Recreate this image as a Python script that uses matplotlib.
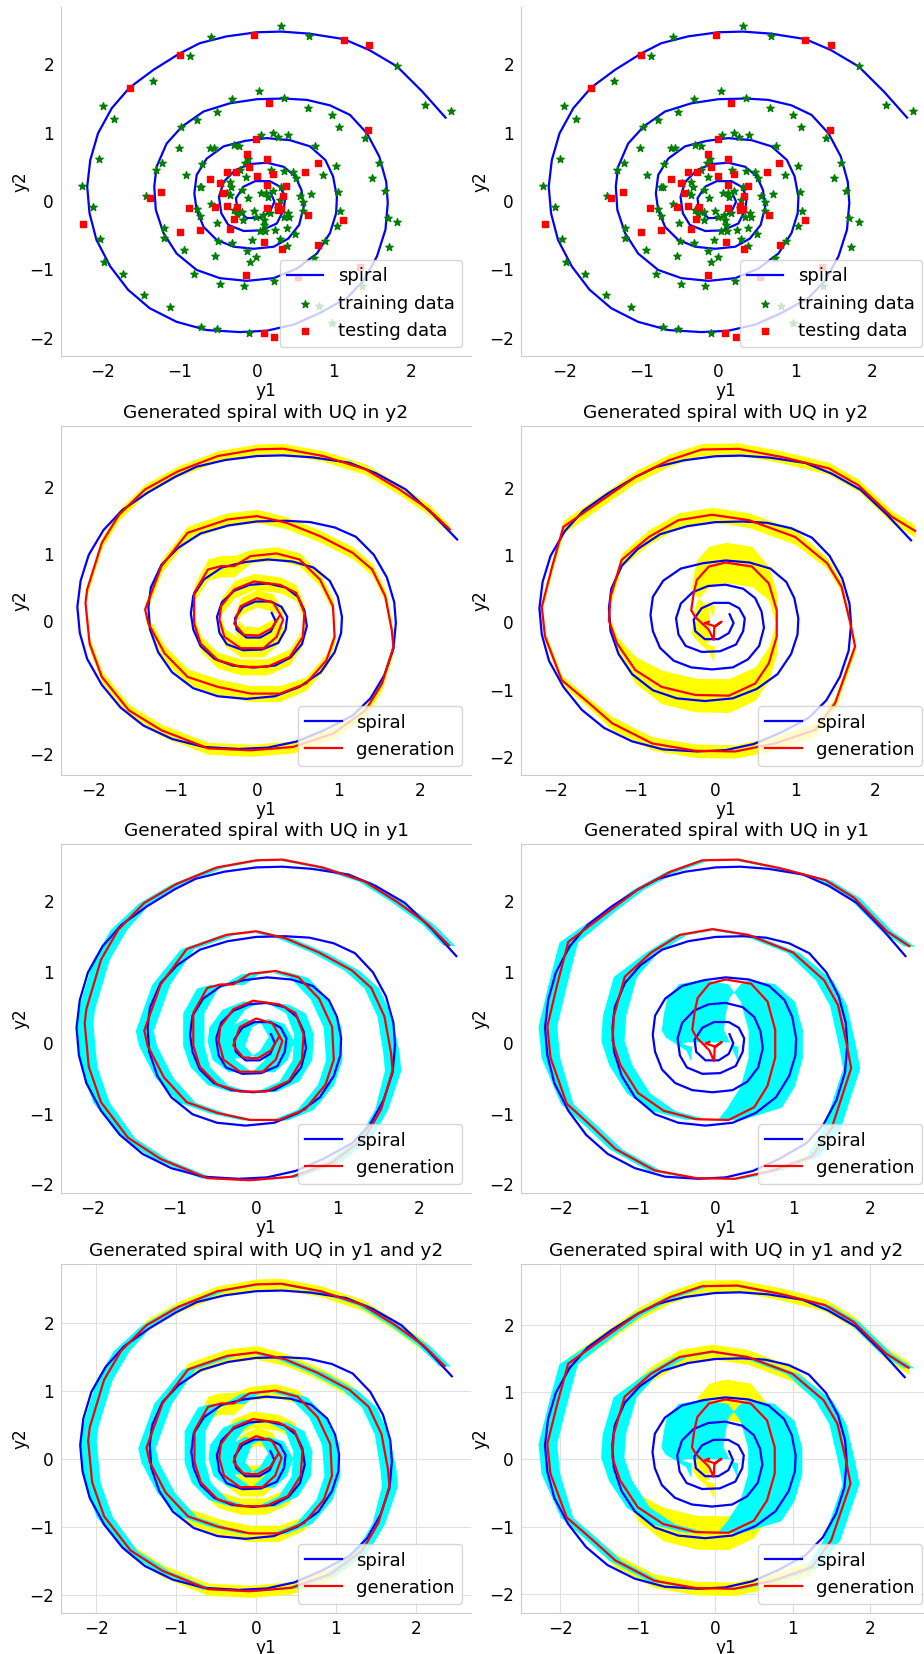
import numpy as np
import matplotlib
matplotlib.use('Agg')
import matplotlib.pyplot as plt

# ---- data ----

# true spiral, outer end -> centre, (y1, y2)
spiral_pts = np.array([
    (2.45, 1.22), (2.15, 1.60), (1.82, 1.97), (1.46, 2.21), (1.13, 2.37), (0.68, 2.45),
    (0.32, 2.48), (0.00, 2.47), (-0.39, 2.41), (-0.74, 2.31), (-1.00, 2.16), (-1.34, 1.92),
    (-1.65, 1.66), (-1.88, 1.36), (-2.06, 0.99), (-2.16, 0.60), (-2.20, 0.21), (-2.17, -0.18),
    (-2.08, -0.57), (-1.90, -0.96), (-1.67, -1.30), (-1.39, -1.57), (-1.04, -1.77), (-0.65, -1.89),
    (-0.22, -1.92), (0.13, -1.90), (0.48, -1.81), (0.82, -1.64), (1.17, -1.42), (1.39, -1.16),
    (1.56, -0.81), (1.67, -0.42), (1.70, -0.03), (1.68, 0.28), (1.59, 0.65), (1.43, 0.99),
    (1.21, 1.26), (0.95, 1.40), (0.65, 1.48), (0.35, 1.50), (0.00, 1.49), (-0.35, 1.43),
    (-0.69, 1.31), (-0.97, 1.09), (-1.17, 0.84), (-1.30, 0.50), (-1.33, 0.21), (-1.31, -0.13),
    (-1.21, -0.47), (-1.04, -0.77), (-0.78, -1.01), (-0.48, -1.13), (-0.13, -1.17), (0.22, -1.13),
    (0.52, -0.99), (0.78, -0.77), (0.95, -0.47), (1.03, -0.18), (1.04, 0.06), (0.99, 0.36),
    (0.89, 0.60), (0.69, 0.80), (0.43, 0.89), (0.13, 0.92), (-0.15, 0.88), (-0.43, 0.80),
    (-0.65, 0.62), (-0.78, 0.38), (-0.81, 0.11), (-0.78, -0.13), (-0.69, -0.38), (-0.52, -0.57),
    (-0.30, -0.67), (-0.04, -0.70), (0.22, -0.67), (0.41, -0.55), (0.55, -0.35), (0.61, -0.08),
    (0.58, 0.16), (0.50, 0.36), (0.35, 0.50), (0.13, 0.56), (-0.09, 0.54), (-0.28, 0.45),
    (-0.43, 0.28), (-0.49, 0.06), (-0.46, -0.18), (-0.37, -0.35), (-0.17, -0.44), (0.06, -0.43),
    (0.26, -0.33), (0.35, -0.13), (0.37, 0.06), (0.30, 0.21), (0.17, 0.29), (-0.02, 0.29),
    (-0.17, 0.21), (-0.27, 0.04), (-0.25, -0.13), (-0.13, -0.25), (0.04, -0.25), (0.17, -0.16),
    (0.23, -0.01), (0.18, 0.12)])

train_pts = np.array([
    (0.32, 2.56), (-0.59, 2.40), (0.68, 2.41), (-0.87, 2.12), (1.82, 1.97), (-1.35, 1.75),
    (-2.00, 1.39), (-1.85, 1.20), (2.18, 1.41), (2.52, 1.32), (-2.05, 0.62), (-2.27, 0.22),
    (-2.12, -0.09), (-2.03, -0.56), (-1.98, -0.90), (-1.73, -1.07), (-1.46, -1.38), (-1.13, -1.55),
    (-0.72, -1.84), (-0.52, -1.87), (-0.10, -1.93), (0.81, -1.54), (0.97, -1.78), (1.36, -1.25),
    (1.72, -0.68), (1.82, -0.31), (1.70, -0.25), (1.66, 0.14), (1.50, 0.33), (1.59, 0.55),
    (1.40, 0.92), (1.07, 1.08), (0.97, 1.26), (0.67, 1.36), (0.36, 1.51), (0.03, 1.61),
    (-0.32, 1.49), (-0.52, 1.30), (-0.78, 1.19), (-0.98, 1.08), (-1.01, 0.77), (-1.23, 0.55),
    (-1.31, 0.46), (-1.44, 0.08), (-1.21, -0.40), (-1.21, -0.54), (-0.94, -0.72), (-0.81, -1.07),
    (-0.48, -1.22), (-0.17, -1.24), (0.22, -1.17), (0.74, -0.83), (0.88, -0.58), (1.04, -0.36),
    (1.08, -0.15), (1.06, 0.13), (1.03, 0.51), (0.86, 0.38), (0.75, 0.80), (0.40, 0.97),
    (0.27, 0.93), (0.21, 1.00), (0.05, 0.97), (-0.30, 0.82), (-0.23, 0.80), (-0.61, 0.77),
    (-0.56, 0.77), (-0.71, 0.54), (-0.92, 0.38), (-0.74, 0.20), (-0.72, 0.20), (-0.59, -0.04),
    (-0.78, -0.12), (-0.74, -0.22), (-0.51, -0.32), (-0.50, -0.58), (-0.32, -0.62), (-0.54, -0.80),
    (-0.13, -0.73), (-0.09, -0.90), (-0.01, -0.82), (-0.06, -0.57), (0.04, -0.44), (0.11, -0.44),
    (0.10, -0.35), (0.24, -0.42), (0.30, -0.56), (0.39, -0.40), (0.50, -0.49), (0.42, -0.24),
    (0.60, -0.14), (0.71, 0.10), (0.56, 0.07), (0.51, 0.34), (0.47, 0.42), (0.36, 0.44),
    (0.18, 0.45), (-0.15, 0.55), (-0.11, 0.61), (-0.14, 0.35), (-0.35, 0.28), (-0.33, 0.21),
    (-0.35, 0.09), (-0.19, 0.16), (-0.12, 0.04), (-0.04, -0.14), (-0.19, -0.16), (-0.30, -0.13),
    (-0.26, -0.19), (-0.18, -0.28), (-0.01, -0.23), (0.12, 0.12), (0.14, 0.06), (0.21, 0.14),
    (0.32, 0.21), (0.30, 0.01), (0.17, -0.18), (0.09, -0.28), (0.08, -0.20), (0.28, -0.11),
    (0.35, -0.24), (0.41, -0.17), (0.60, -0.02), (0.06, 0.12), (-0.22, 0.45), (-0.47, 0.26),
    (-0.39, 0.11), (0.39, -0.66)])

test_pts = np.array([
    (-0.03, 2.43), (-1.00, 2.13), (-1.65, 1.66), (1.13, 2.35), (1.46, 2.28), (0.16, 1.43),
    (1.45, 1.04), (-0.01, 0.90), (-0.13, 0.69), (0.13, 0.62), (-0.10, 0.49), (0.79, 0.55),
    (-0.39, 0.43), (-0.27, 0.43), (0.63, 0.42), (0.21, 0.40), (0.00, 0.37), (-0.61, 0.32),
    (-0.48, 0.27), (0.13, 0.24), (0.38, 0.22), (-1.24, 0.13), (-0.44, 0.12), (-1.39, 0.05),
    (0.34, 0.07), (-0.88, -0.10), (-0.54, -0.09), (-0.39, -0.08), (-0.25, -0.09), (0.13, -0.11),
    (0.28, -0.07), (0.32, -0.12), (0.28, -0.13), (0.66, -0.20), (1.12, -0.28), (-2.25, -0.33),
    (-0.29, -0.26), (-0.35, -0.41), (-0.74, -0.43), (-1.00, -0.46), (0.10, -0.60), (0.33, -0.70),
    (0.80, -0.64), (-0.14, -1.09), (1.34, -0.96), (0.54, -1.12), (0.09, -1.93), (0.23, -1.99)])

# generated trajectory, left-hand model (outer end -> centre)
gen_l = np.array([
    (2.36, 1.37), (2.10, 1.67), (1.73, 1.98), (1.33, 2.27), (0.81, 2.47), (0.32, 2.58),
    (0.00, 2.57), (-0.48, 2.47), (-0.97, 2.24), (-1.37, 1.97), (-1.69, 1.59), (-1.90, 1.17),
    (-2.08, 0.47), (-2.10, 0.27), (-2.05, -0.34), (-1.90, -0.84), (-1.57, -1.34), (-1.17, -1.64),
    (-0.60, -1.91), (-0.08, -1.94), (0.44, -1.89), (0.93, -1.69), (1.33, -1.34), (1.53, -0.94),
    (1.67, -0.39), (1.65, -0.14), (1.57, 0.37), (1.41, 0.77), (1.17, 1.02), (0.77, 1.27),
    (0.36, 1.47), (0.00, 1.57), (-0.36, 1.52), (-0.85, 1.32), (-1.17, 0.82), (-1.37, 0.17),
    (-1.33, -0.04), (-1.13, -0.49), (-0.85, -0.84), (-0.48, -0.99), (-0.08, -1.09), (0.28, -1.09),
    (0.60, -0.94), (0.85, -0.59), (0.95, -0.24), (0.93, 0.22), (0.77, 0.62), (0.52, 0.92),
    (0.24, 1.01), (-0.08, 0.97), (-0.28, 0.82), (-0.44, 0.82), (-0.60, 0.77), (-0.77, 0.42),
    (-0.77, -0.04), (-0.69, -0.34), (-0.48, -0.59), (-0.20, -0.69), (0.12, -0.69), (0.40, -0.54),
    (0.56, -0.24), (0.58, 0.12), (0.48, 0.42), (0.28, 0.54), (-0.04, 0.59), (-0.28, 0.47),
    (-0.44, 0.22), (-0.46, 0.02), (-0.40, -0.24), (-0.20, -0.41), (0.08, -0.41), (0.24, -0.24),
    (0.32, 0.02), (0.20, 0.27), (0.00, 0.34), (-0.20, 0.22), (-0.28, -0.04), (-0.16, -0.21),
    (0.02, -0.22), (0.18, -0.11), (0.28, 0.08)])
# uncertainty half widths (y1 direction, y2 direction)
unc_l_y1 = np.array([0.07]*10 + [0.10]*6 + [0.08]*8 + [0.10]*2 + [0.09]*5 + [0.08]*3
                    + [0.11]*4 + [0.10]*7 + [0.11]*5 + [0.13]*5 + [0.12]*10 + [0.14]*16)
unc_l_y2 = np.array([0.06] + [0.08]*13 + [0.09]*17 + [0.10]*6 + [0.12]*5 + [0.10]*8
                    + [0.16]*3 + [0.12]*12 + [0.13]*16)

# generated trajectory, right-hand model
gen_r = np.array([
    (2.50, 1.36), (2.21, 1.57), (1.79, 2.04), (1.42, 2.29), (0.83, 2.46), (0.29, 2.58),
    (-0.17, 2.57), (-0.58, 2.41), (-1.00, 2.16), (-1.33, 1.89), (-1.90, 1.42), (-2.04, 0.83),
    (-2.17, 0.23), (-2.13, -0.21), (-1.92, -0.86), (-1.58, -1.20), (-1.29, -1.50), (-0.79, -1.80),
    (-0.25, -1.91), (0.25, -1.92), (0.75, -1.80), (1.25, -1.60), (1.50, -1.20), (1.75, -0.36),
    (1.69, -0.01), (1.58, 0.53), (1.40, 0.88), (1.00, 1.27), (0.42, 1.52), (-0.04, 1.60),
    (-0.46, 1.52), (-0.83, 1.27), (-1.17, 0.93), (-1.31, 0.38), (-1.33, 0.03), (-1.23, -0.31),
    (-1.00, -0.71), (-0.67, -0.96), (-0.25, -1.08), (0.17, -1.09), (0.50, -0.91), (0.67, -0.61),
    (0.77, -0.21), (0.77, 0.18), (0.67, 0.58), (0.46, 0.83), (0.13, 0.89), (-0.08, 0.83),
    (-0.23, 0.63), (-0.27, 0.43), (-0.30, 0.18), (-0.25, 0.08), (-0.08, -0.11), (-0.02, -0.26),
    (-0.01, -0.06), (0.08, 0.01), (0.00, -0.06), (-0.13, -0.01), (-0.08, 0.01)])
unc_r_y1 = np.array([0.07]*10 + [0.12]*4 + [0.08]*8 + [0.11]*5 + [0.08]*5 + [0.15]*5
                    + [0.15]*3 + [0.35]*5 + [0.30]*2 + [0.40]*5 + [0.30]*7)
unc_r_y2 = np.array([0.09]*10 + [0.10] + [0.07]*5 + [0.10]*6 + [0.08]*5 + [0.11]*5
                    + [0.10]*4 + [0.20] + [0.25]*4 + [0.25]*4 + [0.30]*5 + [0.33]*4 + [0.30]*5)

ticks = [-2, -1, 0, 1, 2]

# ---- figure ----
plt.rcParams['font.size'] = 12.2
plt.rcParams['legend.fontsize'] = 13.1
fig = plt.figure(figsize=(9.24, 16.54), dpi=100)
W, H = 924.0, 1654.0


def make_ax(left, top, xlim, ylim, height=349, width=410, grid=False):
    ax = fig.add_axes([left / W, 1 - (top + height) / H, width / W, height / H])
    ax.set_xlim(xlim)
    ax.set_ylim(ylim)
    ax.set_xticks(ticks)
    ax.set_yticks(ticks)
    ax.tick_params(length=0, pad=5)
    for s in ax.spines.values():
        s.set_color('0.8')
    ax.spines['right'].set_visible(False)
    ax.set_xlabel('y1', labelpad=1)
    ax.set_ylabel('y2', labelpad=0)
    if grid:
        ax.grid(color='0.88', lw=0.8)
        ax.set_axisbelow(True)
    return ax


# row 1 : data
for left, x0 in [(61, -2.54), (521, -2.56)]:
    ax = make_ax(left, 7, (x0, x0 + 5.32), (-2.27, 2.84))
    ax.spines['top'].set_visible(False)
    ax.plot(spiral_pts[:, 0], spiral_pts[:, 1], color='b', lw=1.6, label='spiral')
    ax.scatter(train_pts[:, 0], train_pts[:, 1], marker='*', s=30, color='g',
               label='training data', zorder=3)
    ax.scatter(test_pts[:, 0], test_pts[:, 1], marker='s', s=24, color='r',
               label='testing data', zorder=3)
    ax.legend(loc='lower right')

# rows 2-4 : generated spirals
gens = [(gen_l, unc_l_y1, unc_l_y2), (gen_r, unc_r_y1, unc_r_y2)]
rows = [
    ('Generated spiral with UQ in y2', 426, False, True, False,
     [((-2.40, 2.62), (-2.31, 2.92)), ((-2.43, 2.70), (-2.27, 2.92))]),
    ('Generated spiral with UQ in y1', 844, True, False, False,
     [((-2.39, 2.63), (-2.12, 2.80)), ((-2.51, 2.78), (-2.12, 2.80))]),
    ('Generated spiral with UQ in y1 and y2', 1264, True, True, True,
     [((-2.44, 2.69), (-2.26, 2.87)), ((-2.51, 2.79), (-2.28, 2.90))]),
]
for title, top, show_y1, show_y2, grid, lims in rows:
    for col, left in enumerate([61, 521]):
        g, u1, u2 = gens[col]
        ax = make_ax(left, top, lims[col][0], lims[col][1], grid=grid)
        if show_y2:
            ax.fill_between(g[:, 0], g[:, 1] - u2, g[:, 1] + u2, color='yellow', lw=0)
        if show_y1:
            ax.fill_betweenx(g[:, 1], g[:, 0] - u1, g[:, 0] + u1, color='cyan', lw=0)
        ax.plot(spiral_pts[:, 0], spiral_pts[:, 1], color='b', lw=1.6, label='spiral')
        ax.plot(g[:, 0], g[:, 1], color='r', lw=1.6, label='generation')
        ax.set_title(title, fontsize=13.3)
        ax.legend(loc='lower right')

fig.savefig('out.png', dpi=100)
